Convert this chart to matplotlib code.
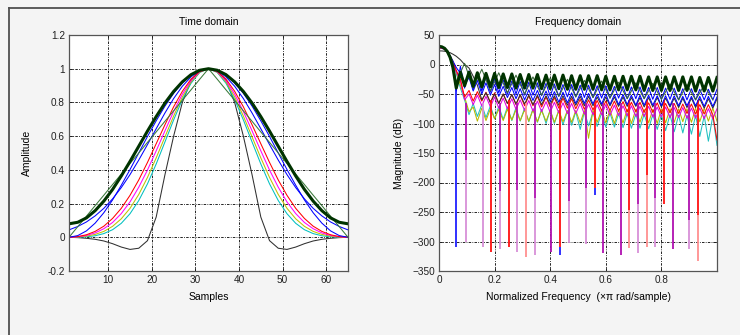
import numpy as np
import matplotlib
matplotlib.use("Agg")
import matplotlib.pyplot as plt
from matplotlib.lines import Line2D

plt.rcParams['font.family'] = ['Liberation Sans', 'DejaVu Sans']

# ---- time domain: window samples at n = 1, 3, 5, ..., 65 ----
samples = list(range(1, 66, 2))
t_ticks = [10, 20, 30, 40, 50, 60]
amp_ticks = [-0.2, 0, 0.2, 0.4, 0.6, 0.8, 1.0, 1.2]
amp_labels = ['-0.2', '0', '0.2', '0.4', '0.6', '0.8', '1', '1.2']

w_hamming = [0.08, 0.089, 0.115, 0.158, 0.215, 0.284, 0.364, 0.45, 0.54, 0.63, 0.716, 0.796, 0.865, 0.922, 0.965, 0.991, 1.0,
             0.991, 0.965, 0.922, 0.865, 0.796, 0.716, 0.63, 0.54, 0.45, 0.364, 0.284, 0.215, 0.158, 0.115, 0.089, 0.08]
w_tri = [0, 0.063, 0.125, 0.188, 0.25, 0.313, 0.375, 0.438, 0.5, 0.563, 0.625, 0.688, 0.75, 0.813, 0.875, 0.938, 1.0,
         0.938, 0.875, 0.813, 0.75, 0.688, 0.625, 0.563, 0.5, 0.438, 0.375, 0.313, 0.25, 0.188, 0.125, 0.063, 0]
w_hann = [0, 0.01, 0.038, 0.084, 0.146, 0.222, 0.309, 0.402, 0.5, 0.598, 0.691, 0.778, 0.854, 0.916, 0.962, 0.99, 1.0,
          0.99, 0.962, 0.916, 0.854, 0.778, 0.691, 0.598, 0.5, 0.402, 0.309, 0.222, 0.146, 0.084, 0.038, 0.01, 0]
w_gauss = [0.044, 0.064, 0.091, 0.127, 0.172, 0.228, 0.295, 0.372, 0.458, 0.55, 0.644, 0.737, 0.823, 0.896, 0.952, 0.988, 1.0,
           0.988, 0.952, 0.896, 0.823, 0.737, 0.644, 0.55, 0.458, 0.372, 0.295, 0.228, 0.172, 0.127, 0.091, 0.064, 0.044]
w_red = [0, 0.004, 0.015, 0.035, 0.066, 0.112, 0.172, 0.249, 0.34, 0.444, 0.555, 0.667, 0.774, 0.866, 0.939, 0.984, 1.0,
         0.984, 0.939, 0.866, 0.774, 0.667, 0.555, 0.444, 0.34, 0.249, 0.172, 0.112, 0.066, 0.035, 0.015, 0.004, 0]
w_magenta = [0, 0.003, 0.011, 0.026, 0.051, 0.088, 0.141, 0.21, 0.297, 0.399, 0.513, 0.631, 0.746, 0.849, 0.93, 0.982, 1.0,
             0.982, 0.93, 0.849, 0.746, 0.631, 0.513, 0.399, 0.297, 0.21, 0.141, 0.088, 0.051, 0.026, 0.011, 0.003, 0]
w_yellow = [0, 0.002, 0.007, 0.017, 0.035, 0.065, 0.11, 0.172, 0.254, 0.355, 0.471, 0.595, 0.719, 0.832, 0.922, 0.98, 1.0,
            0.98, 0.922, 0.832, 0.719, 0.595, 0.471, 0.355, 0.254, 0.172, 0.11, 0.065, 0.035, 0.017, 0.007, 0.002, 0]
w_cyan = [0, 0.001, 0.003, 0.009, 0.022, 0.045, 0.083, 0.14, 0.218, 0.317, 0.435, 0.565, 0.696, 0.817, 0.914, 0.978, 1.0,
          0.978, 0.914, 0.817, 0.696, 0.565, 0.435, 0.317, 0.218, 0.14, 0.083, 0.045, 0.022, 0.009, 0.003, 0.001, 0]
w_black = [0, -0.002, -0.006, -0.012, -0.022, -0.038, -0.058, -0.072, -0.065, -0.02, 0.12, 0.37, 0.6, 0.8, 0.93, 0.99, 1.0,
           0.99, 0.93, 0.8, 0.6, 0.37, 0.12, -0.02, -0.065, -0.072, -0.058, -0.038, -0.022, -0.012, -0.006, -0.002, 0]

# ---- frequency domain (dB) ----
f_ticks = [0, 0.2, 0.4, 0.6, 0.8]
f_labels = ['0', '0.2', '0.4', '0.6', '0.8']
db_ticks = [50, 0, -50, -100, -150, -200, -250, -300, -350]

head_f = [0, 0.01, 0.02, 0.03, 0.04, 0.05]
lobe_f = [0.062, 0.092, 0.123, 0.154, 0.185, 0.215, 0.246, 0.277, 0.308, 0.338, 0.369, 0.4, 0.431, 0.462, 0.492, 0.523,
          0.554, 0.585, 0.615, 0.646, 0.677, 0.708, 0.738, 0.769, 0.8, 0.831, 0.862, 0.892, 0.923, 0.954, 0.985]
peak_f = [0.077, 0.108, 0.138, 0.169, 0.2, 0.231, 0.262, 0.292, 0.323, 0.354, 0.385, 0.415, 0.446, 0.477, 0.508, 0.538,
          0.569, 0.6, 0.631, 0.662, 0.692, 0.723, 0.754, 0.785, 0.815, 0.846, 0.877, 0.908, 0.938, 0.969, 1.0]

green_head = [30.7, 30, 27.5, 22, 12, -5]
green_lobe = [-40, -36, -37, -38, -38, -39, -39, -40, -40, -40, -41, -41, -41, -42, -42, -42, -42, -43, -43, -43, -43,
              -43, -44, -44, -44, -44, -44, -44, -45, -45, -45]
green_peak = [-13, -13, -14, -15, -15, -16, -16, -17, -17, -17, -18, -18, -18, -19, -19, -19, -19, -20, -20, -20, -20,
              -20, -21, -21, -21, -21, -21, -21, -22, -22, -22]

tri_head = [30, 29.5, 27, 22, 14, 3]
tri_lobe = [-30, 2, -40, -8, -45, -14, -48, -18, -50, -21, -52, -23, -54, -25, -55, -27, -56, -28, -57, -30, -58, -31,
            -58, -32, -59, -33, -60, -34, -60, -35, -60]

bluea_head = [30, 29.5, 27, 22, 13, -2]
bluea_lobe = [-45, -40, -42, -45, -47, -48, -50, -50, -52, -52, -53, -54, -54, -55, -55, -56, -56, -57, -57, -57, -58,
              -58, -58, -59, -59, -59, -60, -60, -60, -60, -60]
bluea_peak = [-3, -11, -17, -21, -24, -26, -28, -29, -30, -31, -32, -33, -34, -34, -35, -35, -36, -36, -37, -37, -38,
              -38, -39, -39, -40, -40, -41, -41, -42, -42, -42]

blueb_head = [29, 28.5, 26.5, 22, 15, 6]
blueb_lobe = [-5, -35, -45, -50, -52, -54, -56, -58, -60, -61, -62, -63, -64, -65, -66, -66, -67, -67, -68, -68, -68,
              -69, -69, -69, -70, -70, -70, -70, -70, -71, -71]
blueb_peak = [-15, -22, -27, -31, -34, -37, -39, -41, -43, -44, -45, -46, -47, -48, -49, -49, -50, -50, -51, -51, -52,
              -52, -52, -53, -53, -53, -54, -54, -54, -54, -55]

red_head = [28.6, 28, 26, 21, 14, 5]
red_lobe = [-10, -55, -62, -62, -64, -66, -66, -68, -70, -70, -72, -72, -74, -74, -75, -76, -77, -78, -78, -79, -80,
            -80, -81, -81, -82, -82, -83, -83, -84, -84, -85]
red_peak = [-25, -44, -46, -47, -48, -50, -51, -52, -53, -54, -55, -56, -57, -58, -59, -60, -61, -62, -62, -63, -64,
            -64, -65, -65, -66, -66, -67, -67, -68, -68, -128]

mag_head = [28, 27.5, 25.5, 20.5, 13, 3]
mag_lobe = [-12, -60, -68, -70, -72, -74, -75, -76, -78, -79, -80, -81, -82, -83, -83, -84, -85, -85, -86, -87, -87,
            -88, -88, -89, -89, -90, -90, -91, -91, -92, -92]
mag_peak = [-28, -50, -52, -54, -55, -57, -58, -60, -61, -62, -63, -64, -65, -66, -66, -67, -68, -68, -69, -70, -70,
            -71, -71, -72, -72, -73, -73, -74, -74, -75, -75]

black_head = [23, 23, 22.5, 21.5, 20, 17.5]
black_lobe = [14, 0, -20, -60, -65, -66, -66, -67, -67, -68, -68, -68, -69, -69, -69, -70, -70, -70, -70, -71, -71,
              -71, -72, -72, -72, -72, -73, -73, -73, -74, -74]
black_peak = [8, -6, -35, -48, -50, -50, -51, -51, -52, -52, -53, -53, -53, -54, -54, -54, -55, -55, -55, -55, -56,
              -56, -56, -56, -57, -57, -57, -57, -58, -58, -58]

yel_head = [28.5, 28, 26, 21.5, 14.5, 6]
yel_lobe = [-12, -55, -72, -74, -75, -76, -76, -77, -77, -77, -78, -78, -78, -78, -78, -78, -77, -77, -77, -77, -76,
            -76, -76, -76, -75, -75, -75, -75, -74, -74, -74]
yel_peak = [-35, -80, -96, -95, -92, -95, -94, -95, -96, -97, -96, -98, -97, -98, -99, -125, -98, -99, -100, -99, -100,
            -98, -99, -100, -99, -98, -97, -98, -97, -96, -96]

cyan_head = [28, 27.5, 25.5, 21, 14, 5]
cyan_lobe = [-15, -60, -66, -68, -70, -71, -72, -73, -74, -75, -76, -77, -78, -79, -80, -80, -81, -82, -82, -83, -83,
             -84, -84, -85, -85, -85, -86, -86, -86, -87, -87]
cyan_peak = [-40, -85, -88, -90, -92, -93, -95, -96, -97, -98, -100, -100, -102, -103, -110, -104, -105, -106, -106,
             -107, -108, -108, -109, -110, -112, -114, -116, -118, -122, -130, -137]

# deep nulls (vertical spikes): frequency, top, end of dark part, bottom
spike_f = [0.062, 0.096, 0.157, 0.186, 0.219, 0.25, 0.28, 0.312, 0.344, 0.403, 0.436, 0.467, 0.527, 0.561, 0.591,
           0.655, 0.685, 0.716, 0.747, 0.778, 0.808, 0.841, 0.9, 0.933]
spike_top = [-40, -65, -65, -60, -65, -60, -65, -65, -65, -65, -60, -65, -65, -60, -65,
             -65, -60, -65, -60, -65, -60, -65, -65, -60]
spike_mid = [-309, -162, -310, -188, -215, -222, -213, -327, -226, -217, -310, -232, -209, -209, -250,
             -219, -246, -237, -188, -226, -237, -130, -263, -255]
spike_bot = [-309, -301, -310, -318, -313, -310, -317, -327, -323, -317, -323, -303, -305, -221, -319,
             -323, -311, -319, -309, -310, -237, -313, -313, -333]
spike_c1 = ['b', 'p', 'l', 'r', 'p', 'r', 'p', 's', 'p', 'p', 'r', 'p', 'p', 'r', 'p',
            'p', 'r', 'p', 'r', 'p', 'r', 'p', 'p', 'r']
spike_c2 = ['b', 'l', 'l', 'r', 'l', 'r', 'l', 's', 'l', 'p', 'b', 'l', 'l', 'b', 'p',
            'p', 's', 'l', 's', 'l', 'r', 'p', 'l', 's']
spike_colors = {'b': '#2020ff', 'p': '#b010b0', 'l': '#d890d8', 'r': '#ff1010', 's': '#ff9090'}


def lobed(head, at_lobe, at_peak):
    f = list(head_f)
    d = list(head)
    for i in range(len(lobe_f)):
        f += [lobe_f[i], peak_f[i]]
        d += [at_lobe[i], at_peak[i]]
    return f, d


fig = plt.figure(figsize=(7.4, 3.35), dpi=100, facecolor='#f4f4f4')
fig.add_artist(Line2D([8.5 / 740, 1], [1 - 7.5 / 335, 1 - 7.5 / 335], color='#505050', lw=1.3))
fig.add_artist(Line2D([8.5 / 740, 8.5 / 740], [0, 1 - 7.5 / 335], color='#505050', lw=1.3))

grid_ls = (0, (3, 1.5, 1, 1.5))


def style(ax):
    ax.set_facecolor('white')
    ax.set_axisbelow(True)
    ax.grid(True, color='k', linestyle=grid_ls, lw=0.6)
    ax.tick_params(direction='in', length=3, width=0.6, top=True, right=True, labelsize=7.2, pad=3,
                   colors='#202020')
    for s in ax.spines.values():
        s.set_color('#555555')
        s.set_linewidth(0.9)


# time domain
ax1 = fig.add_axes([69 / 740, 64 / 335, 279 / 740, 236 / 335])
style(ax1)
thin = 0.75
ax1.plot(samples, w_black, color='#303030', lw=thin)
ax1.plot(samples, w_cyan, color='#00c0c0', lw=thin)
ax1.plot(samples, w_yellow, color='#c0c000', lw=thin)
ax1.plot(samples, w_magenta, color='#ff00ff', lw=thin)
ax1.plot(samples, w_red, color='#ff0000', lw=thin)
ax1.plot(samples, w_hann, color='#0000ff', lw=thin)
ax1.plot(samples, w_gauss, color='#0000ff', lw=thin)
ax1.plot(samples, w_tri, color='#3a7a3a', lw=thin)
ax1.plot(samples, w_hamming, color='#003300', lw=2.2)
ax1.set_xlim(1, 65)
ax1.set_ylim(-0.2, 1.2)
ax1.set_xticks(t_ticks)
ax1.set_yticks(amp_ticks)
ax1.set_yticklabels(amp_labels)
ax1.set_title('Time domain', fontsize=7.5, pad=7)
ax1.set_xlabel('Samples', fontsize=7.5, labelpad=5)
ax1.set_ylabel('Amplitude', fontsize=7.5, labelpad=11)

# frequency domain
ax2 = fig.add_axes([439 / 740, 64 / 335, 278 / 740, 236 / 335])
style(ax2)
f, d = lobed(cyan_head, cyan_lobe, cyan_peak)
ax2.plot(f, d, color='#20c0c0', lw=thin)
f, d = lobed(yel_head, yel_lobe, yel_peak)
ax2.plot(f, d, color='#b8b800', lw=thin)
f, d = lobed(mag_head, mag_lobe, mag_peak)
ax2.plot(f, d, color='#e000e0', lw=thin)
f, d = lobed(red_head, red_lobe, red_peak)
ax2.plot(f, d, color='#ff0000', lw=thin)
f, d = lobed(black_head, black_lobe, black_peak)
ax2.plot(f, d, color='#303030', lw=thin)
for i in range(len(spike_f)):
    ax2.plot([spike_f[i], spike_f[i]], [spike_mid[i], spike_bot[i]], color=spike_colors[spike_c2[i]], lw=1.3,
             solid_capstyle='butt')
    ax2.plot([spike_f[i], spike_f[i]], [spike_top[i], spike_mid[i]], color=spike_colors[spike_c1[i]], lw=1.3,
             solid_capstyle='butt')
f, d = lobed(blueb_head, blueb_lobe, blueb_peak)
ax2.plot(f, d, color='#0000ff', lw=thin)
f, d = lobed(bluea_head, bluea_lobe, bluea_peak)
ax2.plot(f, d, color='#0000ff', lw=thin)
ax2.plot(head_f + lobe_f, tri_head + tri_lobe, color='#3a6a3a', lw=thin)
f, d = lobed(green_head, green_lobe, green_peak)
ax2.plot(f, d, color='#003300', lw=2.2)
ax2.set_xlim(0, 1)
ax2.set_ylim(-350, 50)
ax2.set_xticks(f_ticks)
ax2.set_xticklabels(f_labels)
ax2.set_yticks(db_ticks)
ax2.set_title('Frequency domain', fontsize=7.5, pad=7)
ax2.set_xlabel('Normalized Frequency  (\u00d7\u03c0 rad/sample)', fontsize=7.5, labelpad=5)
ax2.set_ylabel('Magnitude (dB)', fontsize=7.5, labelpad=6)

fig.savefig('out.png', dpi=100, facecolor=fig.get_facecolor())
